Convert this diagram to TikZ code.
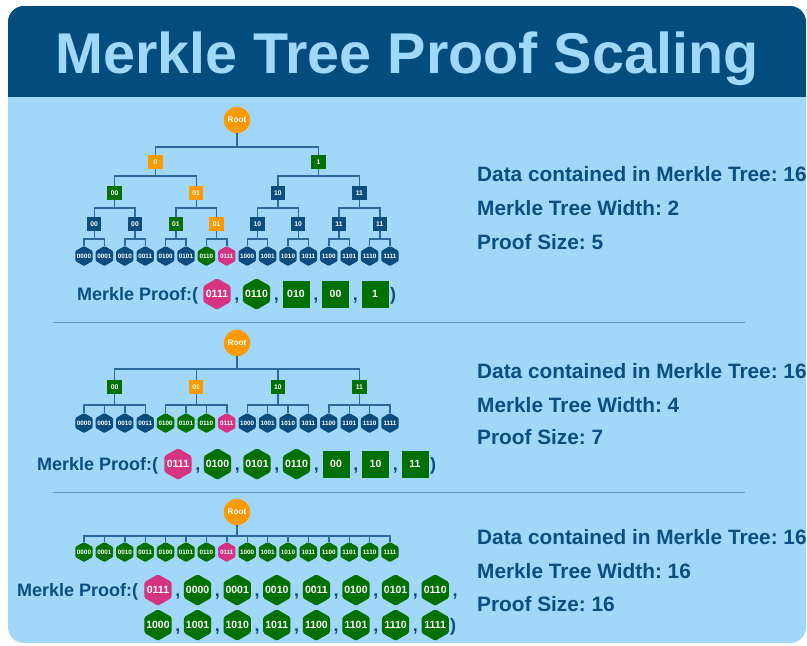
\documentclass[tikz,border=0pt]{standalone}
\usepackage{fontspec}
\setmainfont{Liberation Sans}
\usetikzlibrary{shapes.geometric}
\frenchspacing
\definecolor{bandblue}{RGB}{3,76,126}
\definecolor{bodyblue}{RGB}{161,216,250}
\definecolor{titletxt}{RGB}{160,216,250}
\definecolor{nb}{RGB}{10,76,125}
\definecolor{ng}{RGB}{0,112,0}
\definecolor{no}{RGB}{255,153,0}
\definecolor{nm}{RGB}{213,52,130}
\definecolor{txtblue}{RGB}{12,78,128}
\definecolor{edgecol}{RGB}{45,105,155}
\definecolor{sepcol}{RGB}{100,150,190}
\tikzset{
  edge/.style={draw=edgecol, line width=1.4pt},
  rootnode/.style={circle, fill=no, minimum size=26.5pt, inner sep=0pt, text=white, font=\bfseries\fontsize{8.3}{8.3}\selectfont},
  sq/.style={rectangle, fill=#1, minimum size=14.5pt, inner sep=0pt, text=white, font=\bfseries\fontsize{6.8}{6.8}\selectfont},
  hextxt/.style={text=white, inner sep=0pt, font=\bfseries\fontsize{6.3}{6.3}\selectfont},
  lhex/.style 2 args={regular polygon, regular polygon sides=6, shape border rotate=30, fill=#1, minimum size=20pt, inner sep=0pt, rounded corners=1pt, label={[hextxt]center:#2}},
  phextxt/.style={text=white, inner sep=0pt, font=\bfseries\fontsize{10.5}{10.5}\selectfont},
  phex/.style 2 args={regular polygon, regular polygon sides=6, shape border rotate=30, fill=#1, minimum size=31.5pt, inner sep=0pt, rounded corners=1.5pt, label={[phextxt]center:#2}},
  psq/.style={rectangle, fill=ng, minimum size=27pt, inner sep=0pt, text=white, font=\bfseries\fontsize{10.5}{10.5}\selectfont},
  ptxt/.style={text=txtblue, inner sep=0pt, font=\bfseries\fontsize{18}{18}\selectfont},
  infotxt/.style={text=txtblue, inner sep=0pt, anchor=base west, font=\bfseries\fontsize{20.8}{20.8}\selectfont},
}
\begin{document}
\begin{tikzpicture}[x=1pt,y=-1pt]
\useasboundingbox (0,0) rectangle (807,646);
\fill[white] (0,0) rectangle (807,646);
\begin{scope}
\clip[rounded corners=16pt] (8,6) rectangle (806,643);
\fill[bodyblue] (8,6) rectangle (806,643);
\fill[bandblue] (8,6) rectangle (806,97);
\end{scope}
\node[anchor=base, inner sep=0pt, text=titletxt, font=\bfseries\fontsize{57.5}{57.5}\selectfont] (title) at (407,73) {Merkle Tree Proof Scaling};

% ---------------- Section 1 ----------------
\node[rootnode] (rA) at (237,120) {Root};
\foreach \m/\t/\c in {0/0/no,1/1/ng}
  \node[sq=\c] (aB\m) at ({155.4+163.2*\m},162) {\t};
\foreach \k/\t/\c in {0/00/ng,1/01/no,2/10/nb,3/11/nb}
  \node[sq=\c] (aC\k) at ({114.6+81.6*\k},193) {\t};
\foreach \j/\t/\c in {0/00/nb,1/00/nb,2/01/ng,3/01/no,4/10/nb,5/10/nb,6/11/nb,7/11/nb}
  \node[sq=\c] (aD\j) at ({94.2+40.8*\j},224) {\t};
\foreach \i/\t/\c in {0/0000/nb,1/0001/nb,2/0010/nb,3/0011/nb,4/0100/nb,5/0101/nb,6/0110/ng,7/0111/nm,8/1000/nb,9/1001/nb,10/1010/nb,11/1011/nb,12/1100/nb,13/1101/nb,14/1110/nb,15/1111/nb}
  \node[lhex={\c}{\t}] (aL\i) at ({84+20.4*\i},256) {};
\coordinate (barA1) at (0,147);
\coordinate (barA2) at (0,176);
\coordinate (barA3) at (0,208);
\coordinate (barA4) at (0,239);
\foreach \m in {0,1}
  \draw[edge] (rA.south) |- (barA1 -| aB\m) -- (aB\m.north);
\foreach \k in {0,...,3}{
  \pgfmathtruncatemacro{\p}{\k/2}
  \draw[edge] (aB\p.south) |- (barA2 -| aC\k) -- (aC\k.north);}
\foreach \j in {0,...,7}{
  \pgfmathtruncatemacro{\p}{\j/2}
  \draw[edge] (aC\p.south) |- (barA3 -| aD\j) -- (aD\j.north);}
\foreach \i in {0,...,15}{
  \pgfmathtruncatemacro{\p}{\i/2}
  \draw[edge] (aD\p.south) |- (barA4 -| aL\i) -- (aL\i.north);}
% proof 1
\node[ptxt, anchor=base west] (pA) at (77,300) {Merkle Proof:(};
\node[phex={nm}{0111}] (pA0) at (217,294) {};
\node[phex={ng}{0110}] (pA1) at (256.5,294) {};
\node[psq] (pA2) at (296,294) {010};
\node[psq] (pA3) at (335.5,294) {00};
\node[psq] (pA4) at (375,294) {1};
\foreach \n in {1,...,4}
  \node[ptxt, anchor=base] (cA\n) at ({197.25+39.5*\n},300) {,};
\node[ptxt, anchor=base] (eA) at (393,300) {)};
\node[infotxt] (iA1) at (477,181) {Data contained in Merkle Tree: 16};
\node[infotxt] (iA2) at (477,215.5) {Merkle Tree Width: 2};
\node[infotxt] (iA3) at (477,249) {Proof Size: 5};

\draw[sepcol, line width=0.9pt] (53,322) -- (745,322);

% ---------------- Section 2 ----------------
\node[rootnode] (rB) at (237,343) {Root};
\foreach \k/\t/\c in {0/00/ng,1/01/no,2/10/ng,3/11/ng}
  \node[sq=\c] (bC\k) at ({114.6+81.6*\k},387) {\t};
\foreach \i/\t/\c in {0/0000/nb,1/0001/nb,2/0010/nb,3/0011/nb,4/0100/ng,5/0101/ng,6/0110/ng,7/0111/nm,8/1000/nb,9/1001/nb,10/1010/nb,11/1011/nb,12/1100/nb,13/1101/nb,14/1110/nb,15/1111/nb}
  \node[lhex={\c}{\t}] (bL\i) at ({84+20.4*\i},423) {};
\coordinate (barB1) at (0,369);
\coordinate (barB2) at (0,405);
\foreach \k in {0,...,3}
  \draw[edge] (rB.south) |- (barB1 -| bC\k) -- (bC\k.north);
\foreach \i in {0,...,15}{
  \pgfmathtruncatemacro{\p}{\i/4}
  \draw[edge] (bC\p.south) |- (barB2 -| bL\i) -- (bL\i.north);}
% proof 2
\node[ptxt, anchor=base west] (pB) at (37,470) {Merkle Proof:(};
\node[phex={nm}{0111}] (pB0) at (178,464) {};
\node[phex={ng}{0100}] (pB1) at (217.5,464) {};
\node[phex={ng}{0101}] (pB2) at (257,464) {};
\node[phex={ng}{0110}] (pB3) at (296.5,464) {};
\node[psq] (pB4) at (336,464) {00};
\node[psq] (pB5) at (375.5,464) {10};
\node[psq] (pB6) at (415,464) {11};
\foreach \n in {1,...,6}
  \node[ptxt, anchor=base] (cB\n) at ({158.25+39.5*\n},470) {,};
\node[ptxt, anchor=base] (eB) at (433,470) {)};
\node[infotxt] (iB1) at (477,378) {Data contained in Merkle Tree: 16};
\node[infotxt] (iB2) at (477,412) {Merkle Tree Width: 4};
\node[infotxt] (iB3) at (477,444.5) {Proof Size: 7};

\draw[sepcol, line width=0.9pt] (53,492) -- (745,492);

% ---------------- Section 3 ----------------
\node[rootnode] (rC) at (237,512) {Root};
\foreach \i/\t/\c in {0/0000/ng,1/0001/ng,2/0010/ng,3/0011/ng,4/0100/ng,5/0101/ng,6/0110/ng,7/0111/nm,8/1000/ng,9/1001/ng,10/1010/ng,11/1011/ng,12/1100/ng,13/1101/ng,14/1110/ng,15/1111/ng}
  \node[lhex={\c}{\t}] (cL\i) at ({84+20.4*\i},552) {};
\coordinate (barC1) at (0,536);
\foreach \i in {0,...,15}
  \draw[edge] (rC.south) |- (barC1 -| cL\i) -- (cL\i.north);
% proof 3
\node[ptxt, anchor=base west] (pC) at (17,596) {Merkle Proof:(};
\foreach \n/\t/\c in {0/0111/nm,1/0000/ng,2/0001/ng,3/0010/ng,4/0011/ng,5/0100/ng,6/0101/ng,7/0110/ng}
  \node[phex={\c}{\t}] (pCa\n) at ({158+39.6*\n},590) {};
\foreach \n/\t in {0/1000,1/1001,2/1010,3/1011,4/1100,5/1101,6/1110,7/1111}
  \node[phex={ng}{\t}] (pCb\n) at ({158+39.6*\n},625) {};
\foreach \n in {1,...,8}
  \node[ptxt, anchor=base] (cCa\n) at ({138.2+39.6*\n},596) {,};
\foreach \n in {1,...,7}
  \node[ptxt, anchor=base] (cCb\n) at ({138.2+39.6*\n},631) {,};
\node[ptxt, anchor=base] (eC) at (453,631) {)};
\node[infotxt] (iC1) at (477,544) {Data contained in Merkle Tree: 16};
\node[infotxt] (iC2) at (477,578) {Merkle Tree Width: 16};
\node[infotxt] (iC3) at (477,611) {Proof Size: 16};
\end{tikzpicture}
\end{document}
